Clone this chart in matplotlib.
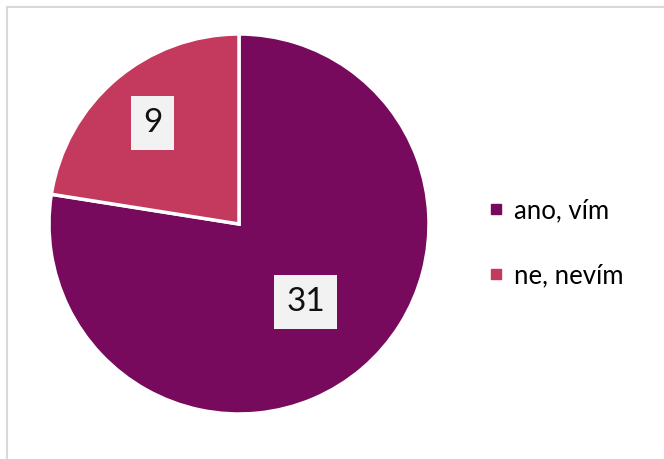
import matplotlib
matplotlib.use("Agg")
import matplotlib.pyplot as plt
import numpy as np
from matplotlib.lines import Line2D

plt.rcParams["font.family"] = ["Lato", "DejaVu Sans"]

labels = ["ano, vím", "ne, nevím"]
counts = [31, 9]
colors = ["#770A5C", "#C33A5E"]
label_dist = [0.54, 0.70]

W, H = 664, 459
fig = plt.figure(figsize=(W / 100, H / 100), dpi=100)

# pie centre (239, 224) px from top-left, radius 190 px
cx, cy, r = 239, 224, 190
ax = fig.add_axes([(cx - r) / W, (H - cy - r) / H, 2 * r / W, 2 * r / H])

wedges, _ = ax.pie(
    counts, colors=colors, startangle=90, counterclock=False, radius=1,
    wedgeprops=dict(edgecolor="white", linewidth=2.5),
)
ax.set_xlim(-1, 1)
ax.set_ylim(-1, 1)
ax.set_aspect("equal")
ax.axis("off")

for w, n, d in zip(wedges, counts, label_dist):
    mid = np.deg2rad((w.theta1 + w.theta2) / 2)
    ax.text(d * np.cos(mid), d * np.sin(mid), str(n), ha="center", va="center",
            fontsize=24, color="#111111",
            bbox=dict(boxstyle="square,pad=0.36", facecolor="#F2F2F2", edgecolor="none"))

handles = [Line2D([], [], marker="s", linestyle="none", markersize=7.5,
                  markerfacecolor=c, markeredgecolor=c) for c in colors]
fig.legend(handles, labels, loc="center left", bbox_to_anchor=(470 / W, 1 - 243 / H),
           frameon=False, fontsize=18.5, labelspacing=1.55, handletextpad=0.2,
           handlelength=1.0, borderpad=0)

# outer chart frame (left and top edges visible)
fig.add_artist(Line2D([7 / W, 7 / W], [0, 1 - 7 / H], color="#D9D9D9", linewidth=1.5))
fig.add_artist(Line2D([7 / W, 1], [1 - 7 / H, 1 - 7 / H], color="#D9D9D9", linewidth=1.5))

fig.savefig("out.png", dpi=100)
